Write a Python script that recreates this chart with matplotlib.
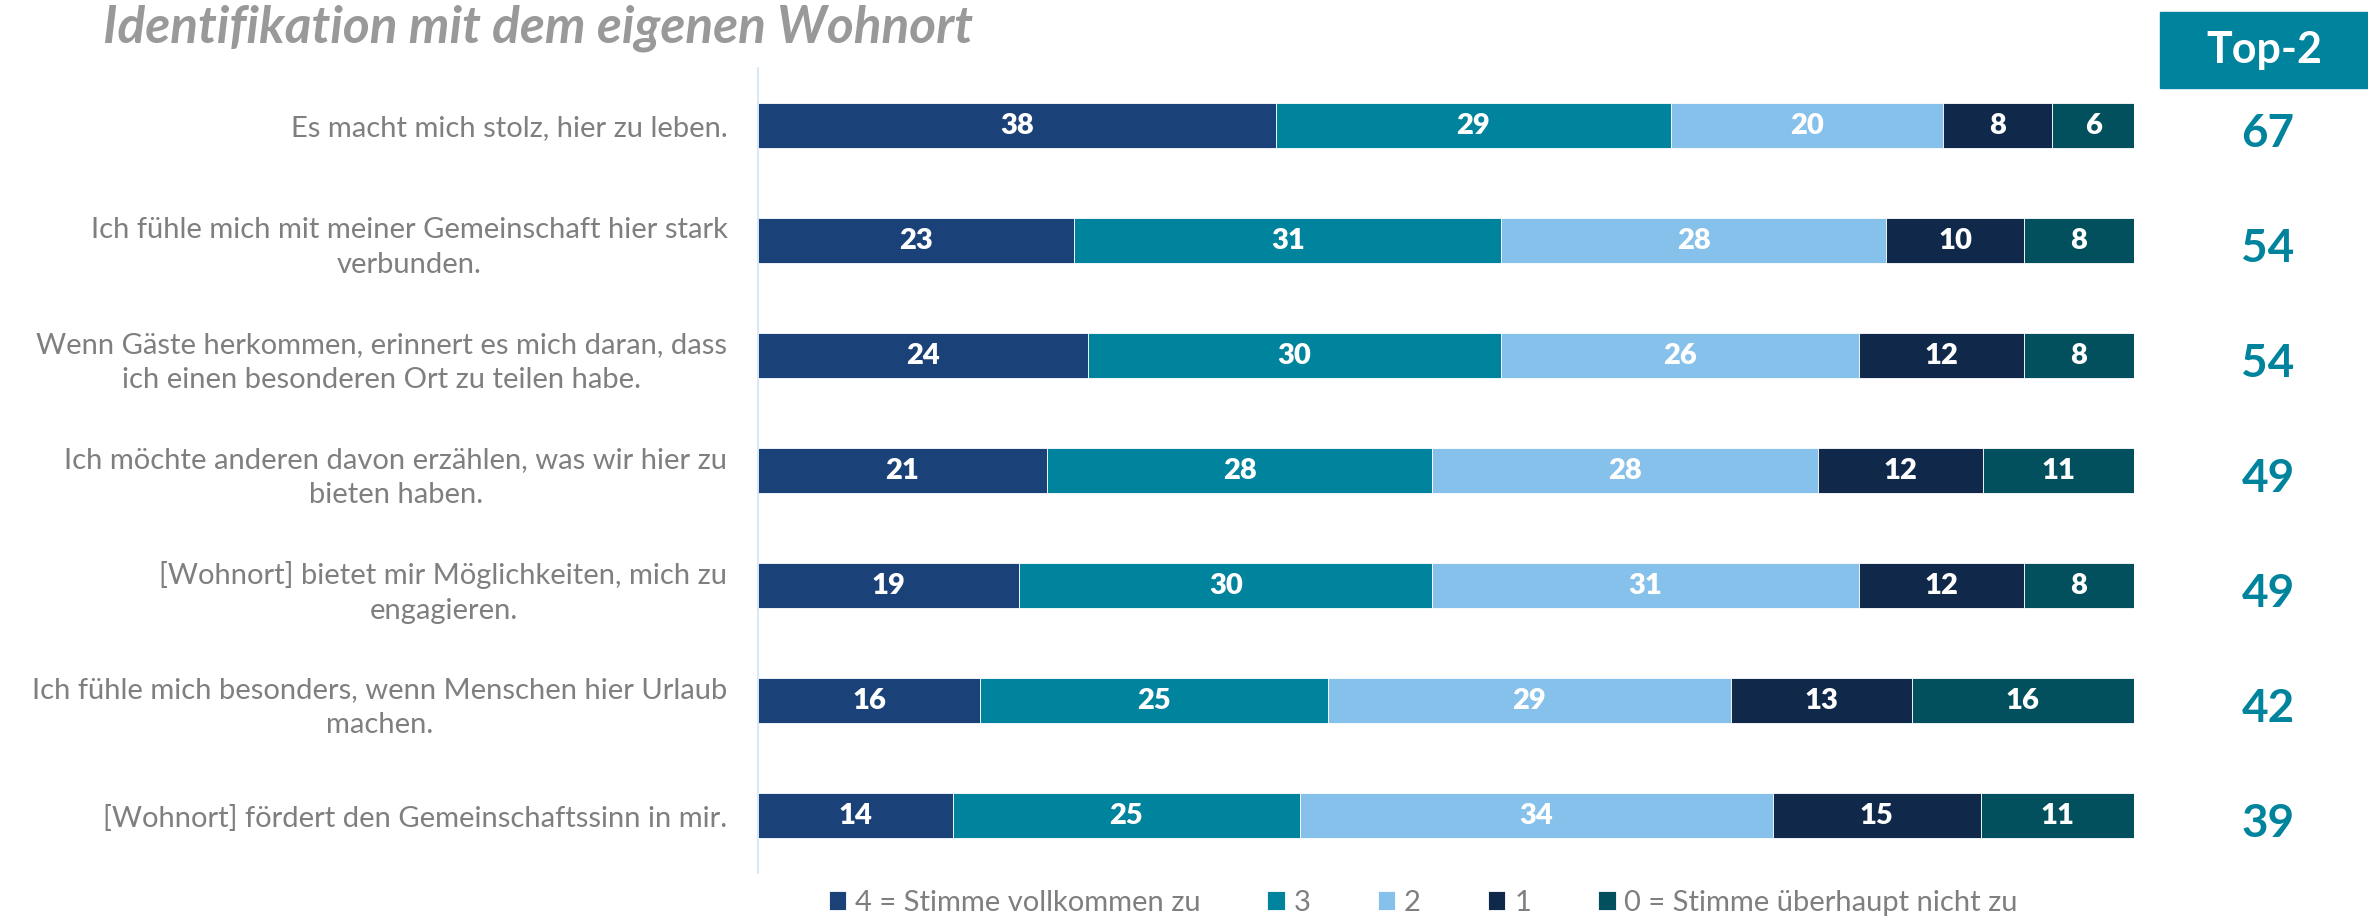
import matplotlib
matplotlib.use("Agg")
import matplotlib.pyplot as plt
import matplotlib.transforms as mtransforms
from matplotlib.patches import Rectangle
import numpy as np

plt.rcParams['font.family'] = ['Lato', 'DejaVu Sans']

# Daten
aussagen = [
    "Es macht mich stolz, hier zu leben.",
    "Ich fühle mich mit meiner Gemeinschaft hier stark\nverbunden.",
    "Wenn Gäste herkommen, erinnert es mich daran, dass\nich einen besonderen Ort zu teilen habe.",
    "Ich möchte anderen davon erzählen, was wir hier zu\nbieten haben.",
    "[Wohnort] bietet mir Möglichkeiten, mich zu\nengagieren.",
    "Ich fühle mich besonders, wenn Menschen hier Urlaub\nmachen.",
    "[Wohnort] fördert den Gemeinschaftssinn in mir.",
]
stufen = ["4 = Stimme vollkommen zu", "3", "2", "1", "0 = Stimme überhaupt nicht zu"]
werte_4 = [38, 23, 24, 21, 19, 16, 14]
werte_3 = [29, 31, 30, 28, 30, 25, 25]
werte_2 = [20, 28, 26, 28, 31, 29, 34]
werte_1 = [8, 10, 12, 12, 12, 13, 15]
werte_0 = [6, 8, 8, 11, 8, 16, 11]
top2 = [67, 54, 54, 49, 49, 42, 39]

farben = ["#1a4178", "#00839c", "#85c1eb", "#10284a", "#02505e"]
teal = "#00839c"
grau = "#7f7f7f"

werte = np.array([werte_4, werte_3, werte_2, werte_1, werte_0], dtype=float)
anteile = werte / werte.sum(axis=0) * 100  # 100%-gestapelt

fig = plt.figure(figsize=(23.68, 9.16), dpi=100)
ax = fig.add_axes([758 / 2368, 1 - 873 / 916, (2134 - 758) / 2368, 805 / 916])

y = np.arange(len(aussagen))
links = np.zeros(len(aussagen))
for i in range(len(stufen)):
    bars = ax.barh(y, anteile[i], left=links, height=0.39, color=farben[i],
                   edgecolor="white", linewidth=0.6, label=stufen[i])
    for j, b in enumerate(bars):
        ax.text(links[j] + anteile[i][j] / 2, y[j], f"{int(werte[i][j])}",
                ha="center", va="center", color="white", fontsize=21,
                fontweight="heavy")
    links += anteile[i]

ax.set_xlim(0, 100)
ax.set_ylim(len(aussagen) - 0.5, -0.5)
ax.set_xticks([])
ax.set_yticks(y)
ax.set_yticklabels(aussagen, fontsize=21, color=grau)
for lbl in ax.get_yticklabels():
    lbl.set_multialignment("center")
    lbl.set_linespacing(1.45)
ax.tick_params(axis="y", length=0, pad=22)
for s in ["top", "right", "bottom"]:
    ax.spines[s].set_visible(False)
ax.spines["left"].set_color("#cfe5f7")
ax.spines["left"].set_linewidth(1.2)

# Top-2 Spalte
fig.patches.append(Rectangle((2160 / 2368, 1 - 88 / 916), 208 / 2368, 76 / 916,
                             transform=fig.transFigure, color=teal, zorder=0))
fig.text(2264 / 2368, 1 - 50 / 916, "Top-2", ha="center", va="center",
         color="white", fontsize=31, fontweight="bold")
trans = mtransforms.blended_transform_factory(fig.transFigure, ax.transData)
for j, v in enumerate(top2):
    ax.text(2268 / 2368, y[j] + 0.07, str(v), transform=trans, ha="center",
            va="center", color=teal, fontsize=33, fontweight="bold", clip_on=False)

# Titel
fig.text(103 / 2368, 1 - 28 / 916, "Identifikation mit dem eigenen Wohnort",
         ha="left", va="center", color="#999999", fontsize=37,
         fontweight="bold", fontstyle="italic")

# Legende
fig.legend(loc="center", bbox_to_anchor=(0.601, 1 - 903 / 916), ncol=5,
           frameon=False, fontsize=21, labelcolor=grau, handlelength=0.6,
           handleheight=0.6, handletextpad=0.3, columnspacing=2.3)

fig.savefig("out.png", dpi=100)
